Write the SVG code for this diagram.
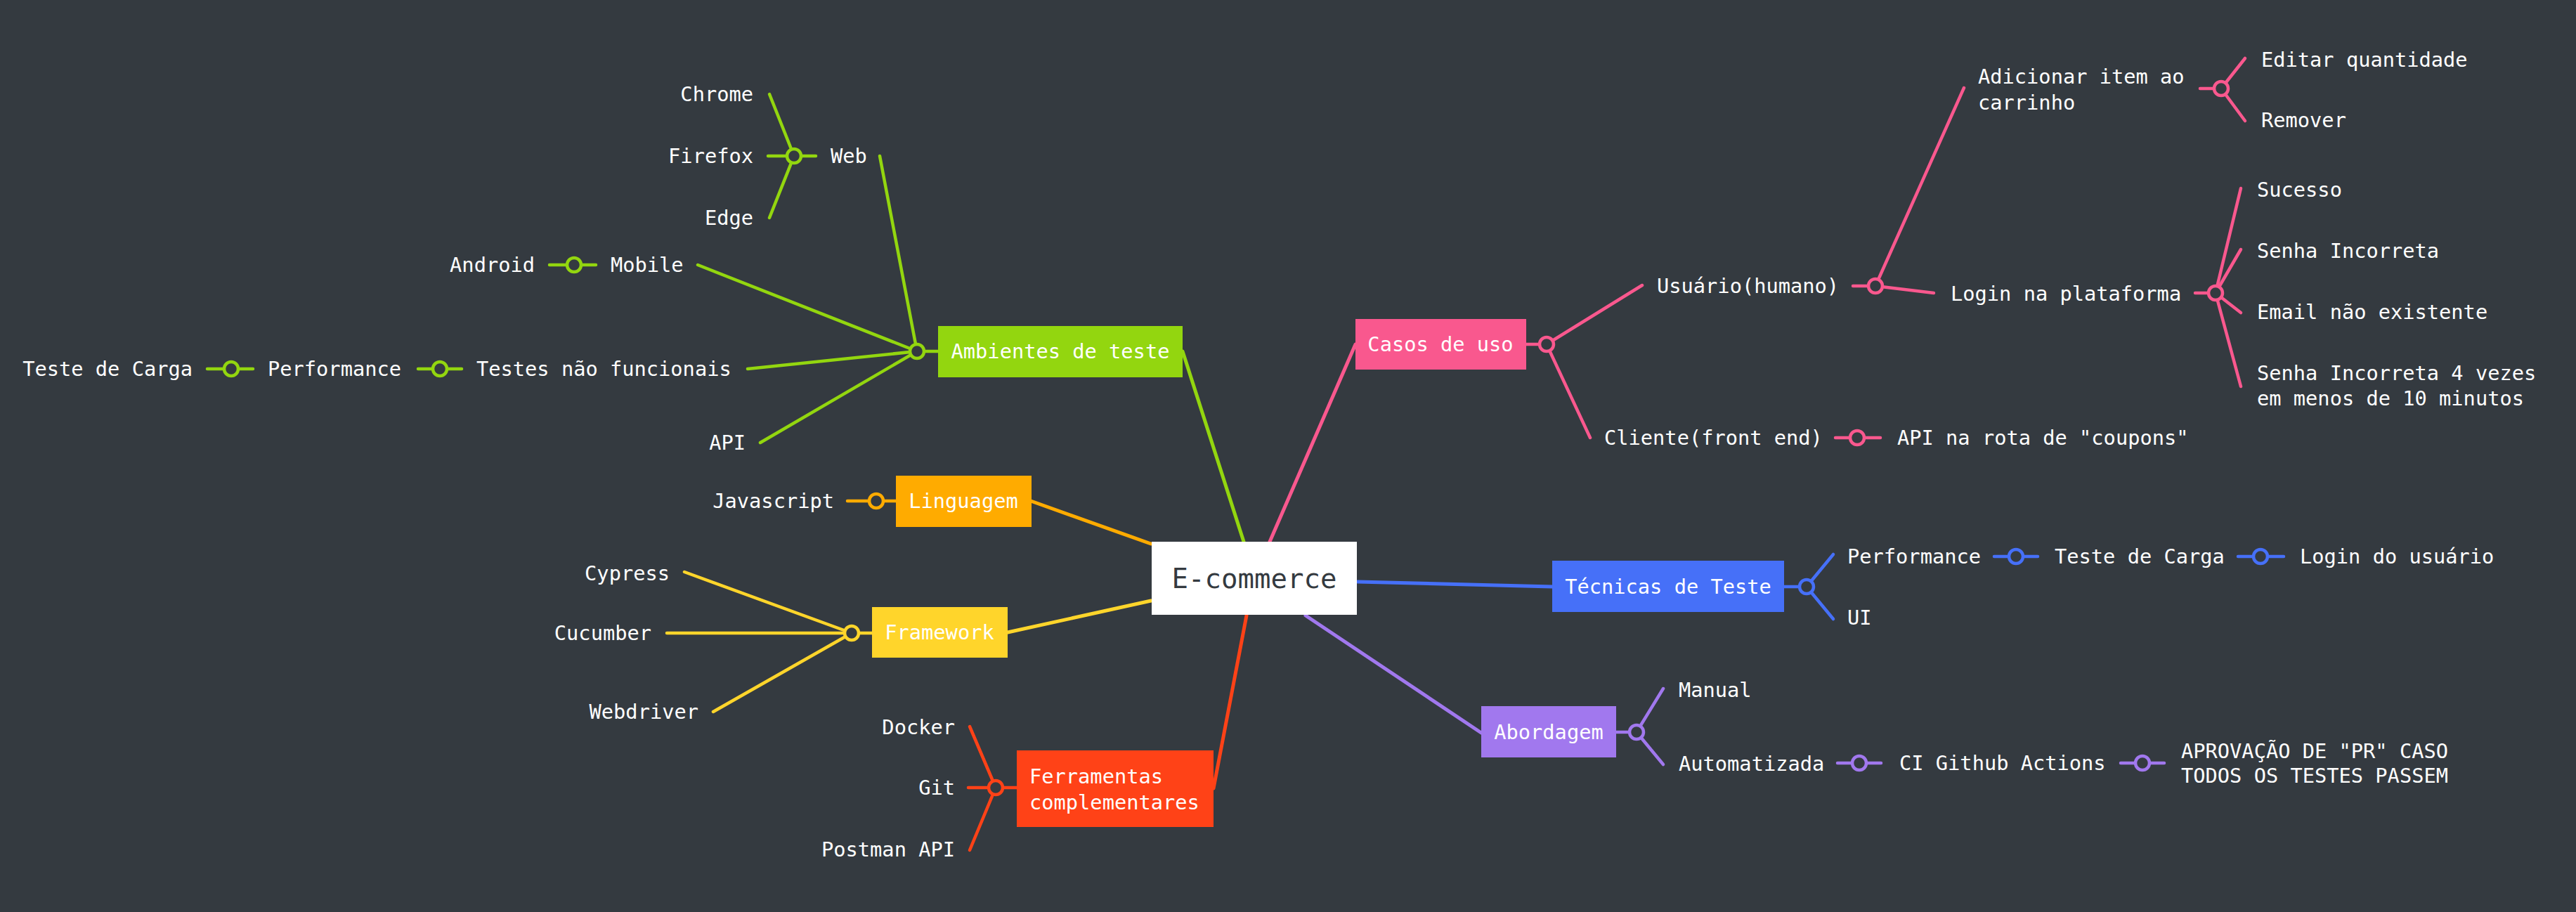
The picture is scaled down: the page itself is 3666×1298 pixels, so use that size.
<svg xmlns="http://www.w3.org/2000/svg" width="3666" height="1298" viewBox="0 0 3666 1298">
<style>
text{font-family:"DejaVu Sans Mono","Liberation Mono",monospace;font-size:28.7px;fill:#ffffff;dominant-baseline:central}
.e{text-anchor:end}
.m{text-anchor:middle}
line{stroke-width:4.5;stroke-linecap:round;fill:none}
circle{fill:#343a40;stroke-width:4.5}
.g line,.g circle{stroke:#93d60f}.g rect{fill:#93d60f}
.o line,.o circle{stroke:#ffab00}.o rect{fill:#ffab00}
.y line,.y circle{stroke:#ffd52b}.y rect{fill:#ffd52b}
.r line,.r circle{stroke:#ff4217}.r rect{fill:#ff4217}
.p line,.p circle{stroke:#f9588e}.p rect{fill:#f9588e}
.b line,.b circle{stroke:#4670f8}.b rect{fill:#4670f8}
.v line,.v circle{stroke:#a178ee}.v rect{fill:#a178ee}
.main line{stroke-width:5}
</style>
<rect width="3666" height="1298" fill="#343a40"/>

<g id="connectors">
  <g class="main">
    <g class="g"><line x1="1770" y1="771" x2="1683" y2="500"/></g>
    <g class="o"><line x1="1638" y1="774" x2="1467" y2="713"/></g>
    <g class="y"><line x1="1638" y1="855" x2="1434" y2="900"/></g>
    <g class="r"><line x1="1774" y1="876" x2="1727" y2="1122"/></g>
    <g class="p"><line x1="1807" y1="771" x2="1929" y2="490"/></g>
    <g class="b"><line x1="1932" y1="828" x2="2209" y2="835"/></g>
    <g class="v"><line x1="1858" y1="876" x2="2108" y2="1043"/></g>
  </g>
  <g class="g">
    <line x1="1305" y1="500" x2="1335" y2="500"/>
    <line x1="1305" y1="500" x2="1252" y2="222"/>
    <line x1="1305" y1="500" x2="993" y2="377"/>
    <line x1="1305" y1="500" x2="1064" y2="525"/>
    <line x1="1305" y1="500" x2="1082" y2="630"/>
    <circle cx="1305" cy="500" r="10"/>
    <line x1="1130" y1="222" x2="1161" y2="222"/>
    <line x1="1130" y1="222" x2="1095" y2="134"/>
    <line x1="1130" y1="222" x2="1093" y2="222"/>
    <line x1="1130" y1="222" x2="1095" y2="310"/>
    <circle cx="1130" cy="222" r="10"/>
    <line x1="782" y1="377" x2="848" y2="377"/>
    <circle cx="817" cy="377" r="10"/>
    <line x1="595" y1="525" x2="657" y2="525"/>
    <circle cx="626" cy="525" r="10"/>
    <line x1="295" y1="525" x2="360" y2="525"/>
    <circle cx="329" cy="525" r="10"/>
  </g>
  <g class="o">
    <line x1="1206" y1="713" x2="1275" y2="713"/>
    <circle cx="1247" cy="713" r="10"/>
  </g>
  <g class="y">
    <line x1="1212" y1="901" x2="1241" y2="901"/>
    <line x1="1212" y1="901" x2="974" y2="814"/>
    <line x1="1212" y1="901" x2="949" y2="901"/>
    <line x1="1212" y1="901" x2="1015" y2="1013"/>
    <circle cx="1212" cy="901" r="10"/>
  </g>
  <g class="r">
    <line x1="1417" y1="1121" x2="1447" y2="1121"/>
    <line x1="1417" y1="1121" x2="1380" y2="1034"/>
    <line x1="1417" y1="1121" x2="1378" y2="1121"/>
    <line x1="1417" y1="1121" x2="1380" y2="1210"/>
    <circle cx="1417" cy="1121" r="10"/>
  </g>
  <g class="p">
    <line x1="2172" y1="490" x2="2201" y2="490"/>
    <line x1="2201" y1="490" x2="2337" y2="406"/>
    <line x1="2201" y1="490" x2="2263" y2="623"/>
    <circle cx="2201" cy="490" r="10"/>
    <line x1="2637" y1="407" x2="2669" y2="407"/>
    <line x1="2669" y1="407" x2="2795" y2="125"/>
    <line x1="2669" y1="407" x2="2752" y2="417"/>
    <circle cx="2669" cy="407" r="10"/>
    <line x1="3131" y1="126" x2="3161" y2="126"/>
    <line x1="3161" y1="126" x2="3195" y2="83"/>
    <line x1="3161" y1="126" x2="3195" y2="172"/>
    <circle cx="3161" cy="126" r="10"/>
    <line x1="3124" y1="417" x2="3153" y2="417"/>
    <line x1="3153" y1="417" x2="3189" y2="268"/>
    <line x1="3153" y1="417" x2="3189" y2="355"/>
    <line x1="3153" y1="417" x2="3189" y2="445"/>
    <line x1="3153" y1="417" x2="3189" y2="550"/>
    <circle cx="3153" cy="417" r="10"/>
    <line x1="2612" y1="623" x2="2676" y2="623"/>
    <circle cx="2643" cy="623" r="10"/>
  </g>
  <g class="b">
    <line x1="2539" y1="835" x2="2571" y2="835"/>
    <line x1="2571" y1="835" x2="2609" y2="789"/>
    <line x1="2571" y1="835" x2="2609" y2="881"/>
    <circle cx="2571" cy="835" r="10"/>
    <line x1="2838" y1="792" x2="2900" y2="792"/>
    <circle cx="2869" cy="792" r="10"/>
    <line x1="3185" y1="792" x2="3250" y2="792"/>
    <circle cx="3217" cy="792" r="10"/>
  </g>
  <g class="v">
    <line x1="2300" y1="1042" x2="2329" y2="1042"/>
    <line x1="2329" y1="1042" x2="2367" y2="980"/>
    <line x1="2329" y1="1042" x2="2367" y2="1088"/>
    <circle cx="2329" cy="1042" r="10"/>
    <line x1="2615" y1="1086" x2="2677" y2="1086"/>
    <circle cx="2646" cy="1086" r="10"/>
    <line x1="3018" y1="1086" x2="3080" y2="1086"/>
    <circle cx="3049" cy="1086" r="10"/>
  </g>
</g>

<g id="root"><rect x="1639" y="771" width="292" height="104" fill="#ffffff"/><text x="1785" y="823" class="m" style="font-size:39px;fill:#343a40">E-commerce</text></g>

<g id="ambientes" class="g"><rect x="1335" y="464" width="348" height="73"/><text x="1509" y="500" class="m">Ambientes de teste</text></g>
<g id="web"><text x="1182" y="222">Web</text></g>
<g id="chrome"><text x="1072" y="134" class="e">Chrome</text></g>
<g id="firefox"><text x="1072" y="222" class="e">Firefox</text></g>
<g id="edge"><text x="1072" y="310" class="e">Edge</text></g>
<g id="mobile"><text x="869" y="377">Mobile</text></g>
<g id="android"><text x="761" y="377" class="e">Android</text></g>
<g id="naofuncionais"><text x="678" y="525">Testes não funcionais</text></g>
<g id="performance1"><text x="381" y="525">Performance</text></g>
<g id="carga1"><text x="274" y="525" class="e">Teste de Carga</text></g>
<g id="api1"><text x="1061" y="630" class="e">API</text></g>

<g id="linguagem" class="o"><rect x="1275" y="677" width="193" height="73"/><text x="1371" y="713" class="m">Linguagem</text></g>
<g id="javascript"><text x="1187" y="713" class="e">Javascript</text></g>

<g id="framework" class="y"><rect x="1241" y="864" width="193" height="72"/><text x="1337" y="900" class="m">Framework</text></g>
<g id="cypress"><text x="953" y="816" class="e">Cypress</text></g>
<g id="cucumber"><text x="927" y="901" class="e">Cucumber</text></g>
<g id="webdriver"><text x="994" y="1013" class="e">Webdriver</text></g>

<g id="ferramentas" class="r"><rect x="1447" y="1068" width="280" height="109"/><text x="1465" y="1105">Ferramentas</text><text x="1465" y="1142">complementares</text></g>
<g id="docker"><text x="1359" y="1035" class="e">Docker</text></g>
<g id="git"><text x="1359" y="1121" class="e">Git</text></g>
<g id="postman"><text x="1359" y="1209" class="e">Postman API</text></g>

<g id="casos" class="p"><rect x="1929" y="454" width="243" height="72"/><text x="2050" y="490" class="m">Casos de uso</text></g>
<g id="usuario"><text x="2358" y="407">Usuário(humano)</text></g>
<g id="adicionar"><text x="2815" y="109">Adicionar item ao</text><text x="2815" y="146">carrinho</text></g>
<g id="editar"><text x="3218" y="85">Editar quantidade</text></g>
<g id="remover"><text x="3218" y="171">Remover</text></g>
<g id="login"><text x="2776" y="418">Login na plataforma</text></g>
<g id="sucesso"><text x="3212" y="270">Sucesso</text></g>
<g id="senha"><text x="3212" y="357">Senha Incorreta</text></g>
<g id="email"><text x="3212" y="444">Email não existente</text></g>
<g id="senha4"><text x="3212" y="531">Senha Incorreta 4 vezes</text><text x="3212" y="567">em menos de 10 minutos</text></g>
<g id="cliente"><text x="2283" y="623">Cliente(front end)</text></g>
<g id="coupons"><text x="2700" y="623">API na rota de "coupons"</text></g>

<g id="tecnicas" class="b"><rect x="2209" y="798" width="330" height="73"/><text x="2374" y="835" class="m">Técnicas de Teste</text></g>
<g id="performance2"><text x="2629" y="792">Performance</text></g>
<g id="carga2"><text x="2924" y="792">Teste de Carga</text></g>
<g id="loginusuario"><text x="3273" y="792">Login do usuário</text></g>
<g id="ui"><text x="2629" y="879">UI</text></g>

<g id="abordagem" class="v"><rect x="2108" y="1005" width="192" height="73"/><text x="2204" y="1042" class="m">Abordagem</text></g>
<g id="manual"><text x="2389" y="982">Manual</text></g>
<g id="automatizada"><text x="2389" y="1087">Automatizada</text></g>
<g id="ci"><text x="2703" y="1086">CI Github Actions</text></g>
<g id="aprovacao"><text x="3104" y="1069">APROVAÇÃO DE "PR" CASO</text><text x="3104" y="1104">TODOS OS TESTES PASSEM</text></g>
</svg>
